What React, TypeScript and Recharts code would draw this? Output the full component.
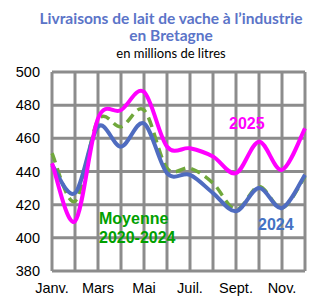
import React from "react"
import { CartesianGrid, Line, LineChart, XAxis, YAxis } from "recharts"

const months = [
  "Janv.",
  "Févr.",
  "Mars",
  "Avr.",
  "Mai",
  "Juin",
  "Juil.",
  "Août",
  "Sept.",
  "Oct.",
  "Nov.",
  "Déc.",
]
const y2025 = [445, 410, 472, 477, 488, 455, 454, 449, 439, 458, 441, 466]
const y2024 = [444, 427, 467, 455, 469, 439, 438, 427, 416, 430, 418, 438]
const moyenne = [451, 422, 471, 467, 477, 442, 442, 433, 417, 431, 418, 437]
const yTicks = [380, 400, 420, 440, 460, 480, 500]

const data = months.map((m, i) => ({
  month: m,
  y2025: y2025[i],
  y2024: y2024[i],
  moyenne: moyenne[i],
}))

// smoothed line like a spreadsheet's (catmull-rom through the points)
const smooth = (ctx: any) => {
  let pts: number[][] = []
  return {
    areaStart() {},
    areaEnd() {},
    lineStart() {
      pts = []
    },
    point(x: number, y: number) {
      pts.push([+x, +y])
    },
    lineEnd() {
      if (!pts.length) return
      ctx.moveTo(pts[0][0], pts[0][1])
      for (let i = 0; i < pts.length - 1; i++) {
        const p0 = pts[i - 1] || pts[i]
        const p1 = pts[i]
        const p2 = pts[i + 1]
        const p3 = pts[i + 2] || pts[i + 1]
        ctx.bezierCurveTo(
          p1[0] + (p2[0] - p0[0]) / 6,
          p1[1] + (p2[1] - p0[1]) / 6,
          p2[0] - (p3[0] - p1[0]) / 6,
          p2[1] - (p3[1] - p1[1]) / 6,
          p2[0],
          p2[1],
        )
      }
    },
  }
}

const tickFont = {
  fontFamily: "'Liberation Sans', Arial, sans-serif",
  fontSize: 14.5,
  fill: "#000",
}

const label = (
  left: number,
  top: number,
  color: string,
  text: React.ReactNode,
): React.ReactElement => (
  <div
    style={{
      position: "absolute",
      left,
      top,
      color,
      fontFamily: "'Liberation Sans', Arial, sans-serif",
      fontWeight: "bold",
      fontSize: 16,
      lineHeight: "20px",
      whiteSpace: "nowrap",
    }}
  >
    {text}
  </div>
)

export default function App() {
  return (
    <div
      style={{
        position: "absolute",
        left: 0,
        top: 0,
        width: 336,
        height: 301,
        background: "#fff",
        overflow: "hidden",
      }}
    >
      <div
        style={{
          position: "absolute",
          left: 0,
          top: 10,
          width: 342,
          textAlign: "center",
          fontFamily: "Lato, 'Open Sans', sans-serif",
          color: "#5b74c8",
          fontWeight: "bold",
          fontSize: 15.5,
          lineHeight: "17px",
        }}
      >
        Livraisons de lait de vache à l’industrie
        <br />
        en Bretagne
      </div>
      <div
        style={{
          position: "absolute",
          left: 0,
          top: 45,
          width: 342,
          textAlign: "center",
          fontFamily: "Lato, 'Open Sans', sans-serif",
          color: "#000",
          fontSize: 13,
          lineHeight: "16px",
        }}
      >
        en millions de litres
      </div>
      <LineChart
        width={336}
        height={301}
        data={data}
        margin={{ top: 72, right: 31, bottom: 0, left: 0 }}
      >
        <CartesianGrid stroke="#8c8c8c" strokeWidth={3} />
        <XAxis
          dataKey="month"
          interval={0}
          axisLine={false}
          tickLine={false}
          tickSize={0}
          tickMargin={12}
          height={30}
          tick={tickFont}
          tickFormatter={(v: string, i: number) => (i % 2 === 0 ? v : "")}
        />
        <YAxis
          domain={[380, 500]}
          ticks={yTicks}
          width={52}
          axisLine={false}
          tickLine={false}
          tickSize={0}
          tickMargin={12}
          tick={tickFont}
        />
        <Line
          dataKey="moyenne"
          type={smooth as any}
          stroke="#70a83c"
          strokeWidth={3.5}
          strokeDasharray="10 6"
          dot={false}
          isAnimationActive={false}
        />
        <Line
          dataKey="y2024"
          type={smooth as any}
          stroke="#4f6cc0"
          strokeWidth={4}
          dot={false}
          isAnimationActive={false}
        />
        <Line
          dataKey="y2025"
          type={smooth as any}
          stroke="#ff00ff"
          strokeWidth={4}
          dot={false}
          isAnimationActive={false}
        />
      </LineChart>
      {label(229, 114, "#ff00ff", "2025")}
      {label(258, 215, "#4472c4", "2024")}
      {label(99, 209, "#00a000", "Moyenne")}
      {label(99, 228, "#00a000", "2020-2024")}
    </div>
  )
}
